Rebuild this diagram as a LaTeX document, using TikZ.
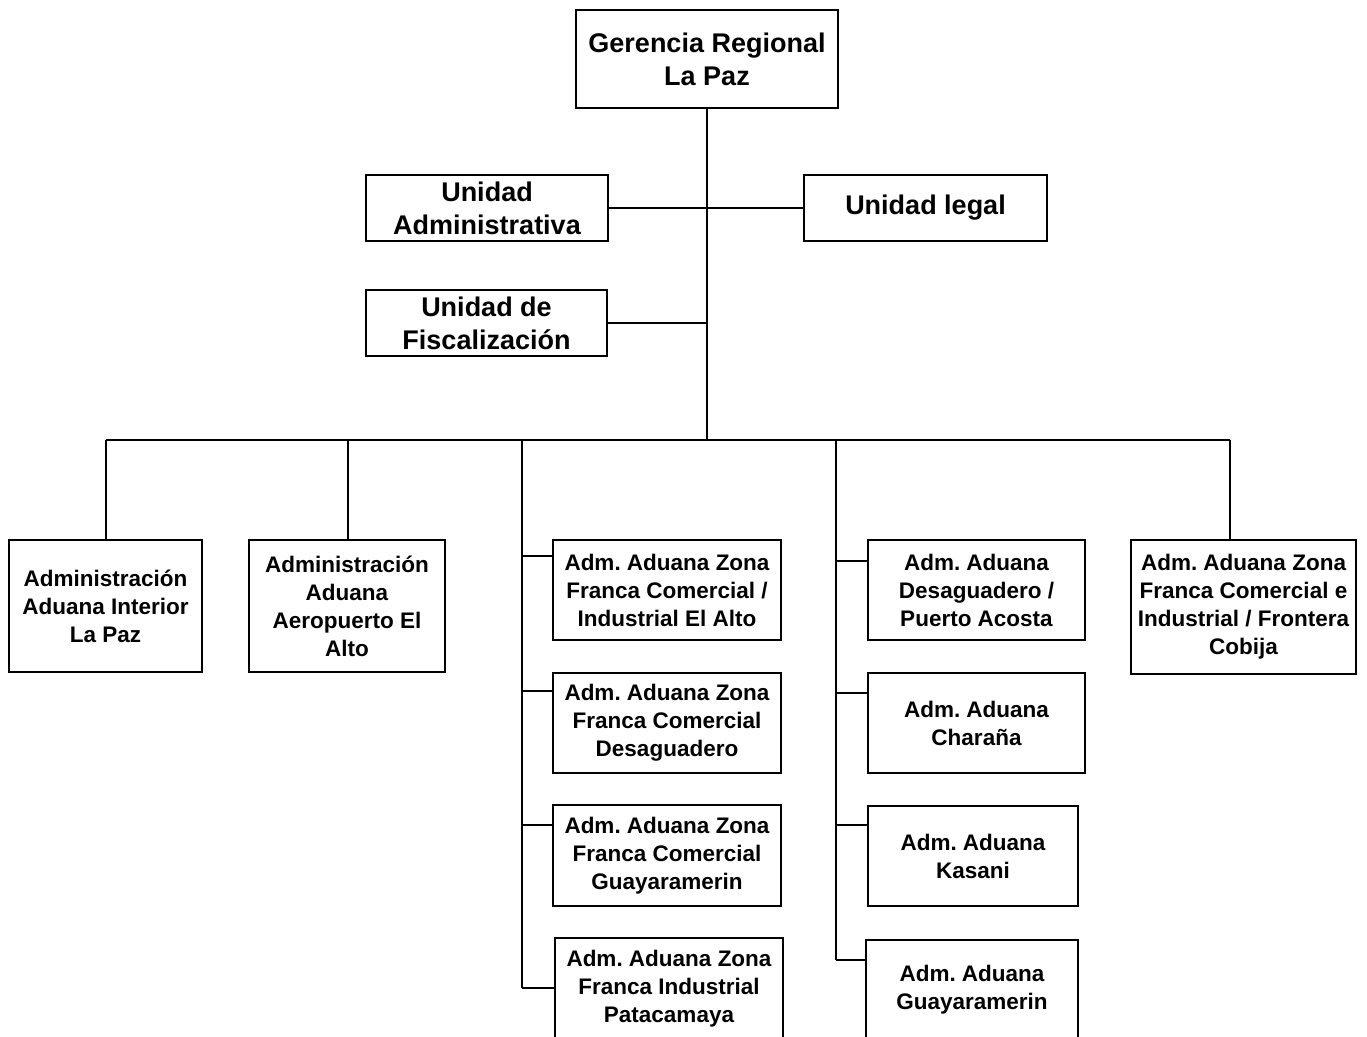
\documentclass[tikz,border=0pt]{standalone}
\usepackage{fontspec}
\setmainfont{Liberation Sans}
\frenchspacing
\begin{document}
\begin{tikzpicture}[x=1pt,y=-1pt,
  box/.style={draw, line width=1.5pt, inner sep=0pt, align=center, font=\bfseries\fontsize{22.5}{28}\selectfont},
  bigbox/.style={box, font=\bfseries\fontsize{27}{33}\selectfont},
  link/.style={line width=1.5pt}]
\useasboundingbox[fill=white] (0,0) rectangle (1367,1036);

% top level and staff units
\node[bigbox, minimum width=262pt, minimum height=98pt] (ger) at (707,59) {Gerencia Regional\\La Paz};
\node[bigbox, minimum width=242pt, minimum height=66pt] (uadm) at (487,208) {Unidad\\Administrativa};
\node[bigbox, minimum width=243pt, minimum height=66pt] (uleg) at (925.5,208) {Unidad legal};
\node[bigbox, minimum width=241pt, minimum height=66pt] (ufis) at (486.5,323) {Unidad de\\Fiscalización};

% customs administrations
\node[box, minimum width=193pt, minimum height=132pt] (b1) at (105.5,606) {Administración\\Aduana Interior\\La Paz};
\node[box, minimum width=196pt, minimum height=132pt] (b2) at (347,606) {Administración\\Aduana\\Aeropuerto El\\Alto};

\node[box, minimum width=228pt, minimum height=100pt] (c1) at (667,590) {Adm. Aduana Zona\\Franca Comercial /\\Industrial El Alto};
\node[box, minimum width=228pt, minimum height=100pt] (c2) at (667,723) {Adm. Aduana Zona\\Franca Comercial\\Desaguadero};
\node[box, minimum width=228pt, minimum height=101pt] (c3) at (667,855.5) {Adm. Aduana Zona\\Franca Comercial\\Guayaramerin};
\node[box, minimum width=228pt, minimum height=102pt] (c4) at (669,989) {Adm. Aduana Zona\\Franca Industrial\\Patacamaya};

\node[box, minimum width=217pt, minimum height=100pt] (d1) at (976.5,590) {Adm. Aduana\\Desaguadero /\\Puerto Acosta};
\node[box, minimum width=217pt, minimum height=100pt] (d2) at (976.5,723) {Adm. Aduana\\Charaña};
\node[box, minimum width=210pt, minimum height=100pt] (d3) at (973,856) {Adm. Aduana\\Kasani};
\node[box, minimum width=212pt, minimum height=100pt] (d4) at (972,990) {Adm. Aduana\\Guayaramerin};

\node[box, minimum width=225pt, minimum height=134pt] (e1) at (1243.5,607) {Adm. Aduana Zona\\Franca Comercial e\\Industrial / Frontera\\Cobija};

% branching points
\coordinate (hub) at (707,440);
\coordinate (bl) at (106,440);
\coordinate (bb) at (348,440);
\coordinate (bc) at (522,440);
\coordinate (bd) at (836,440);
\coordinate (br) at (1230,440);
\coordinate (tc1) at (522,556);
\coordinate (tc2) at (522,691);
\coordinate (tc3) at (522,825);
\coordinate (tc4) at (522,988);
\coordinate (td1) at (836,561);
\coordinate (td2) at (836,693);
\coordinate (td3) at (836,825);
\coordinate (td4) at (836,960);

% connectors
\draw[link] (ger.south) -- (hub);
\draw[link] (uadm.east) -- (uleg.west);
\draw[link] (ufis.east) -- (ufis.east -| hub);
\draw[link] (bl) -- (br);
\draw[link] (bl) -- (bl |- b1.north);
\draw[link] (bb) -- (bb |- b2.north);
\draw[link] (br) -- (br |- e1.north);
\draw[link] (bc) -- (tc4);
\draw[link] (bd) -- (td4);
\draw[link] (tc1) -- (tc1 -| c1.west);
\draw[link] (tc2) -- (tc2 -| c2.west);
\draw[link] (tc3) -- (tc3 -| c3.west);
\draw[link] (tc4) -- (tc4 -| c4.west);
\draw[link] (td1) -- (td1 -| d1.west);
\draw[link] (td2) -- (td2 -| d2.west);
\draw[link] (td3) -- (td3 -| d3.west);
\draw[link] (td4) -- (td4 -| d4.west);
\end{tikzpicture}
\end{document}
